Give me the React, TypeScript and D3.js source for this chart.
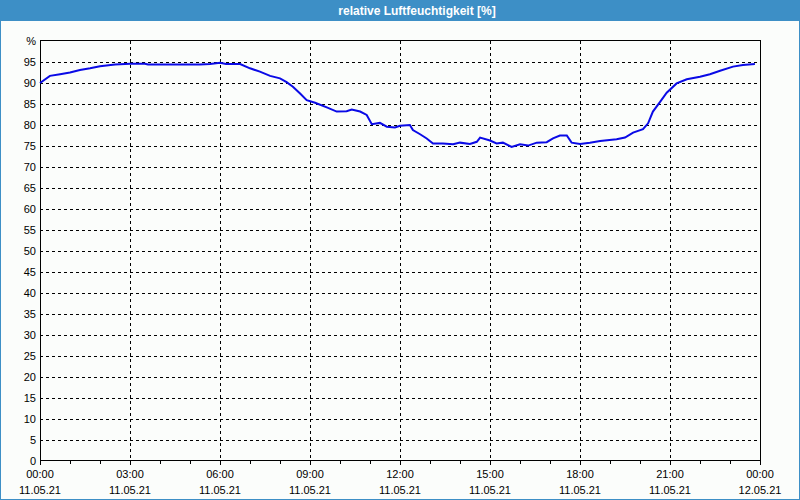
import React from "react";
import * as d3 from "d3";

const title = "relative Luftfeuchtigkeit [%]";
const hours: number[] = [
  0, 0.33, 0.67, 1.0, 1.33, 1.67, 2.0, 2.5, 3.0, 3.5, 3.6, 5.33, 5.67, 6.0, 6.2, 6.67,
  7.0, 7.33, 7.67, 8.0, 8.22, 8.43, 8.67, 8.89, 9.17, 9.56, 9.89, 10.22, 10.39, 10.67,
  10.89, 11.06, 11.33, 11.56, 11.83, 12.0, 12.33, 12.43, 12.67, 12.89, 13.1, 13.43,
  13.77, 14.0, 14.33, 14.56, 14.67, 15.0, 15.22, 15.43, 15.72, 16.0, 16.27, 16.56,
  16.89, 17.1, 17.33, 17.56, 17.72, 18.0, 18.33, 18.67, 19.22, 19.5, 19.77, 20.1,
  20.27, 20.43, 20.67, 20.89, 21.22, 21.56, 22.0, 22.33, 22.67, 23.1, 23.43, 23.83,
];
const humidity: number[] = [
  90.0, 91.7, 92.1, 92.5, 93.1, 93.5, 94.0, 94.4, 94.6, 94.6, 94.4, 94.4, 94.5, 94.8, 94.5, 94.5,
  93.5, 92.7, 91.7, 91.1, 90.2, 89.1, 87.5, 85.9, 85.3, 84.2, 83.2, 83.3, 83.7, 83.2,
  82.4, 80.2, 80.5, 79.6, 79.4, 79.8, 80.0, 78.8, 77.8, 76.8, 75.6, 75.6,
  75.4, 75.8, 75.5, 76.0, 77.0, 76.3, 75.6, 75.8, 74.8, 75.4, 75.1, 75.8,
  75.9, 76.8, 77.5, 77.5, 75.8, 75.5, 75.8, 76.2, 76.6, 77.0, 78.2, 79.0,
  80.4, 83.2, 85.5, 87.7, 89.9, 90.9, 91.5, 92.1, 92.9, 93.9, 94.3, 94.5,
];
const yTicks: number[] = [0, 5, 10, 15, 20, 25, 30, 35, 40, 45, 50, 55, 60, 65, 70, 75, 80, 85, 90, 95, 100];
const xTickHours: number[] = [0, 3, 6, 9, 12, 15, 18, 21, 24];
const xTimeLabels: string[] = ["00:00", "03:00", "06:00", "09:00", "12:00", "15:00", "18:00", "21:00", "00:00"];
const xDateLabels: string[] = ["11.05.21", "11.05.21", "11.05.21", "11.05.21", "11.05.21", "11.05.21", "11.05.21", "11.05.21", "12.05.21"];

const W = 800, H = 500;
const L = 40, R = 760, T = 41, B = 461;
const blue = "#3d8fc6";
const font = "'Liberation Sans', Arial, sans-serif";

export default function App() {
  const x = d3.scaleLinear().domain([0, 24]).range([L, R]);
  const y = d3.scaleLinear().domain([0, 100]).range([B, T]);
  const data = hours.map((h, i) => [h, humidity[i]] as [number, number]);
  const line = d3.line<[number, number]>().x(d => x(d[0])).y(d => y(d[1]));
  const minor = d3.range(0, 25, 1);

  return (
    <svg width={W} height={H} style={{ position: "absolute", left: 0, top: 0, display: "block" }}>
      <rect x={0} y={0} width={W} height={H} fill="#fbfdfb" />
      <rect x={0} y={0} width={W} height={21} fill={blue} />
      <rect x={0.5} y={0.5} width={W - 1} height={H - 1} fill="none" stroke={blue} strokeWidth={1} />
      <text x={417} y={15} fill="#ffffff" fontFamily={font} fontWeight="bold" fontSize={12} textAnchor="middle">{title}</text>

      {yTicks.filter(v => v > 0 && v < 100).map(v => (
        <line key={"gy" + v} x1={L} x2={R} y1={Math.round(y(v)) + 0.5} y2={Math.round(y(v)) + 0.5}
          stroke="#000" strokeWidth={1} strokeDasharray="3,3" />
      ))}
      {xTickHours.filter(h => h > 0 && h < 24).map(h => (
        <line key={"gx" + h} y1={T} y2={B} x1={Math.round(x(h)) + 0.5} x2={Math.round(x(h)) + 0.5}
          stroke="#000" strokeWidth={1} strokeDasharray="3,3" />
      ))}

      <rect x={L + 0.5} y={Math.round(T) - 0.5} width={R - L} height={B - Math.round(T)} fill="none" stroke="#000" strokeWidth={1} />

      {minor.map(h => (
        <line key={"mt" + h} x1={Math.round(x(h)) + 0.5} x2={Math.round(x(h)) + 0.5} y1={B} y2={B + (h % 3 === 0 ? 4 : 3)}
          stroke="#000" strokeWidth={1} />
      ))}

      <path d={line(data) || ""} fill="none" stroke="#0a0ae6" strokeWidth={2} />

      {yTicks.map(v => (
        <text key={"yl" + v} x={36} y={y(v) + 4} fontFamily={font} fontSize={11} textAnchor="end" fill="#000">
          {v === 100 ? "%" : String(v)}
        </text>
      ))}
      {xTickHours.map((h, i) => (
        <g key={"xl" + i}>
          <text x={x(h)} y={478} fontFamily={font} fontSize={11} textAnchor="middle" fill="#000">{xTimeLabels[i]}</text>
          <text x={x(h)} y={494} fontFamily={font} fontSize={11} textAnchor="middle" fill="#000">{xDateLabels[i]}</text>
        </g>
      ))}
    </svg>
  );
}
